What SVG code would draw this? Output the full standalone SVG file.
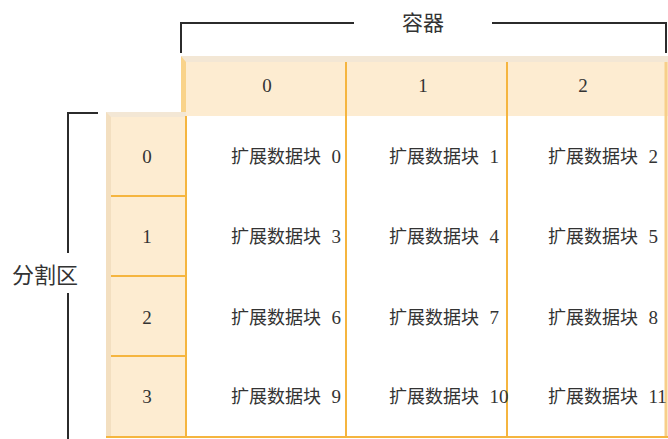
<svg xmlns="http://www.w3.org/2000/svg" width="668" height="439" viewBox="0 0 668 439">
<style>
.t{font-family:"Liberation Serif","Noto Sans CJK SC",serif;fill:#333;font-size:18px}
.c{text-anchor:middle}
.n{font-size:19px}
.br{fill:none;stroke:#2b2b2b;stroke-width:2}
.ol{stroke:#f5b53f;stroke-width:2;fill:none}
</style>
<rect width="668" height="439" fill="#fff"/>
<g id="header">
<rect x="181" y="56" width="487" height="60" fill="#fdecd1"/>
<rect x="181" y="56" width="487" height="6" fill="#f3e7d5"/>
<polygon points="181,56 186,62 186,116 181,116" fill="#f9d38a"/>
<text class="t c n" x="267" y="92">0</text>
<text class="t c n" x="423" y="92">1</text>
<text class="t c n" x="583" y="92">2</text>
</g>
<g id="rows">
<rect x="106" y="112" width="80" height="326" fill="#fdecd1"/>
<rect x="106" y="112" width="80" height="5" fill="#f3e7d5"/>
<polygon points="106,112 111,117 111,438 106,438" fill="#f3dfc0"/>
<text class="t c n" x="147" y="163">0</text>
<text class="t c n" x="147" y="243">1</text>
<text class="t c n" x="147" y="324">2</text>
<text class="t c n" x="147" y="403">3</text>
</g>
<g id="grid">
<line class="ol" x1="186" y1="116" x2="186" y2="438"/>
<line class="ol" x1="346" y1="62" x2="346" y2="438"/>
<line class="ol" x1="507" y1="62" x2="507" y2="438"/>
<line x1="666" y1="62" x2="666" y2="438" stroke="#f7cf8a" stroke-width="3"/>
<line class="ol" x1="111" y1="196" x2="186" y2="196"/>
<line class="ol" x1="111" y1="276" x2="186" y2="276"/>
<line class="ol" x1="111" y1="356" x2="186" y2="356"/>
<line class="ol" x1="106" y1="437" x2="668" y2="437"/>
</g>
<g id="cells">
<text class="t" x="231" y="163">扩展数据块 <tspan class="n" dx="6">0</tspan></text>
<text class="t" x="389" y="163">扩展数据块 <tspan class="n" dx="6">1</tspan></text>
<text class="t" x="548" y="163">扩展数据块 <tspan class="n" dx="6">2</tspan></text>
<text class="t" x="231" y="243">扩展数据块 <tspan class="n" dx="6">3</tspan></text>
<text class="t" x="389" y="243">扩展数据块 <tspan class="n" dx="6">4</tspan></text>
<text class="t" x="548" y="243">扩展数据块 <tspan class="n" dx="6">5</tspan></text>
<text class="t" x="231" y="324">扩展数据块 <tspan class="n" dx="6">6</tspan></text>
<text class="t" x="389" y="324">扩展数据块 <tspan class="n" dx="6">7</tspan></text>
<text class="t" x="548" y="324">扩展数据块 <tspan class="n" dx="6">8</tspan></text>
<text class="t" x="231" y="403">扩展数据块 <tspan class="n" dx="6">9</tspan></text>
<text class="t" x="389" y="403">扩展数据块 <tspan class="n" dx="6">10</tspan></text>
<text class="t" x="548" y="403">扩展数据块 <tspan class="n" dx="6">11</tspan></text>
</g>
<g id="brackets">
<polyline class="br" points="181,53 181,23 354,23"/>
<polyline class="br" points="492,23 666,23 666,53"/>
<polyline class="br" points="98,113 68,113 68,253"/>
<line class="br" x1="68" y1="293" x2="68" y2="439"/>
<text class="t c" x="423" y="30" style="font-size:21px">容器</text>
<text class="t c" x="45" y="283" style="font-size:22px">分割区</text>
</g>
</svg>
